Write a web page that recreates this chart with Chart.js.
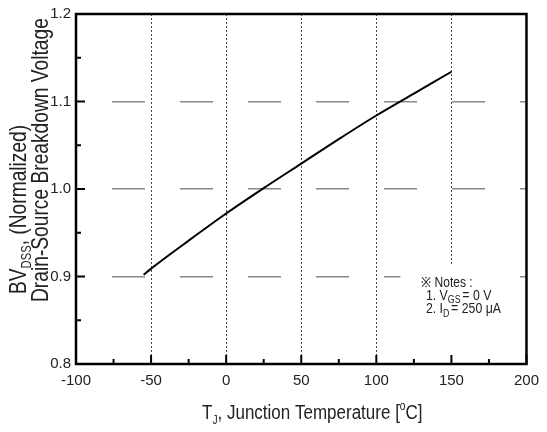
<!DOCTYPE html>
<html>
<head>
<meta charset="utf-8">
<script src="https://cdn.jsdelivr.net/npm/chart.js@4.4.0/dist/chart.umd.min.js"></script>
<style>
  html, body { margin: 0; padding: 0; background: #fff; }
  #wrap { width: 547px; height: 432px; }
</style>
</head>
<body>
<div id="wrap"><canvas id="chart" width="547" height="432"></canvas></div>
<script>
// Junction temperature (degC) and normalized breakdown voltage
const temps = [-55, -50, -25, 0, 25, 50, 75, 100, 125, 150];
const bvNorm = [0.902, 0.909, 0.941, 0.972, 1.001, 1.029, 1.057, 1.084, 1.109, 1.134];

// axis ranges and ticks
const xRange = [-100, 200];
const yRange = [0.8, 1.2];
const xMinorTicks = [-75, -25, 25, 75, 125, 175];
const yMinorTicks = [0.85, 0.95, 1.05, 1.15];

const FONT = '"Liberation Sans", Arial, sans-serif';
const TEXT = '#222';

// draw a run of text pieces (some sub/superscript), squeezed horizontally
// because the original uses a condensed face
function drawRuns(ctx, runs, x, y, squeeze = 0.8) {
    ctx.save();
    ctx.translate(x, y);
    ctx.scale(squeeze, 1);
    let cx = 0;
    for (const r of runs) {
        ctx.font = `${r.size}px ${FONT}`;
        ctx.fillText(r.t, cx, r.dy || 0);
        cx += ctx.measureText(r.t).width + (r.gap || 0);
    }
    ctx.restore();
}

const decorations = {
    id: 'decorations',
    beforeDatasetsDraw(chart) {
        const { ctx } = chart;
        const xs = chart.scales.x, ys = chart.scales.y;
        // white box behind the notes hides the grid there
        const bx = xs.getPixelForValue(116), by = ys.getPixelForValue(0.913);
        const bw = xs.getPixelForValue(182) - bx, bh = ys.getPixelForValue(0.808) - by;
        ctx.save();
        ctx.fillStyle = '#fff';
        ctx.fillRect(bx, by, bw, bh);
        ctx.fillStyle = TEXT;
        ctx.textBaseline = 'alphabetic';
        const nx = xs.getPixelForValue(133);
        drawRuns(ctx, [{ t: '\u203B Notes :', size: 14 }], nx - 5, 287, 0.86);
        drawRuns(ctx, [
            { t: '1. V', size: 14 },
            { t: 'GS', size: 10, dy: 3, gap: 2 },
            { t: '= 0 V', size: 14 }
        ], nx, 300, 0.88);
        drawRuns(ctx, [
            { t: '2. I', size: 14 },
            { t: 'D', size: 10, dy: 4, gap: 2 },
            { t: '= 250 \u03BCA', size: 14 }
        ], nx, 313, 0.88);
        ctx.restore();
    },
    afterDraw(chart) {
        const { ctx, chartArea: a } = chart;
        const xs = chart.scales.x, ys = chart.scales.y;
        ctx.save();
        ctx.strokeStyle = '#000';
        // inward tick marks
        ctx.lineWidth = 2;
        ctx.beginPath();
        xs.ticks.forEach(t => {
            const px = xs.getPixelForValue(t.value);
            ctx.moveTo(px, a.bottom); ctx.lineTo(px, a.bottom - 9);
        });
        xMinorTicks.forEach(v => {
            const px = xs.getPixelForValue(v);
            ctx.moveTo(px, a.bottom); ctx.lineTo(px, a.bottom - 5);
        });
        ys.ticks.forEach(t => {
            const py = ys.getPixelForValue(t.value);
            ctx.moveTo(a.left, py); ctx.lineTo(a.left + 9, py);
        });
        yMinorTicks.forEach(v => {
            const py = ys.getPixelForValue(v);
            ctx.moveTo(a.left, py); ctx.lineTo(a.left + 5, py);
        });
        ctx.stroke();
        // frame
        ctx.lineWidth = 2.5;
        ctx.strokeRect(a.left, a.top, a.right - a.left, a.bottom - a.top);

        // axis titles
        ctx.fillStyle = TEXT;
        ctx.textBaseline = 'alphabetic';
        drawRuns(ctx, [
            { t: 'T', size: 20 },
            { t: 'J', size: 12, dy: 5 },
            { t: ', Junction Temperature [', size: 20 },
            { t: 'o', size: 12, dy: -9 },
            { t: 'C]', size: 20 }
        ], 202, 419, 0.85);

        ctx.save();
        ctx.translate(26, 294);
        ctx.rotate(-Math.PI / 2);
        drawRuns(ctx, [
            { t: 'BV', size: 24 },
            { t: 'DSS', size: 14, dy: 5 },
            { t: ', (Normalized)', size: 24 }
        ], 0, 0);
        ctx.restore();

        ctx.save();
        ctx.translate(48, 302);
        ctx.rotate(-Math.PI / 2);
        drawRuns(ctx, [{ t: 'Drain-Source Breakdown Voltage', size: 24 }], 0, 0);
        ctx.restore();
        ctx.restore();
    }
};

const ctx = document.getElementById('chart').getContext('2d');
new Chart(ctx, {
    type: 'line',
    data: {
        datasets: [{
            data: temps.map((t, i) => ({ x: t, y: bvNorm[i] })),
            borderColor: '#000',
            borderWidth: 2,
            pointRadius: 0,
            fill: false,
            cubicInterpolationMode: 'monotone'
        }]
    },
    options: {
        responsive: false,
        animation: false,
        events: [],
        layout: { padding: { top: 10, right: 11, left: 0, bottom: 0 } },
        plugins: {
            legend: { display: false },
            tooltip: { enabled: false }
        },
        scales: {
            x: {
                type: 'linear',
                min: xRange[0],
                max: xRange[1],
                afterFit: s => { s.height = 68; },
                ticks: {
                    stepSize: 50,
                    padding: 8,
                    color: TEXT,
                    font: { family: FONT, size: 15 }
                },
                grid: {
                    drawTicks: false,
                    lineWidth: 1,
                    color: c => (c.tick && (c.tick.value === xRange[0] || c.tick.value === xRange[1])) ? 'rgba(0,0,0,0)' : '#444'
                },
                border: { display: false, dash: [2, 2] }
            },
            y: {
                type: 'linear',
                min: yRange[0],
                max: yRange[1],
                afterFit: s => { s.width = 76; },
                ticks: {
                    stepSize: 0.1,
                    padding: 5,
                    color: TEXT,
                    font: { family: FONT, size: 15 },
                    callback: v => v.toFixed(1)
                },
                grid: {
                    drawTicks: false,
                    lineWidth: 1.5,
                    color: c => (c.tick && (Math.abs(c.tick.value - yRange[0]) < 1e-6 || Math.abs(c.tick.value - yRange[1]) < 1e-6)) ? 'rgba(0,0,0,0)' : '#888'
                },
                border: { display: false, dash: [33, 35], dashOffset: 32 }
            }
        }
    },
    plugins: [decorations]
});
</script>
</body>
</html>
